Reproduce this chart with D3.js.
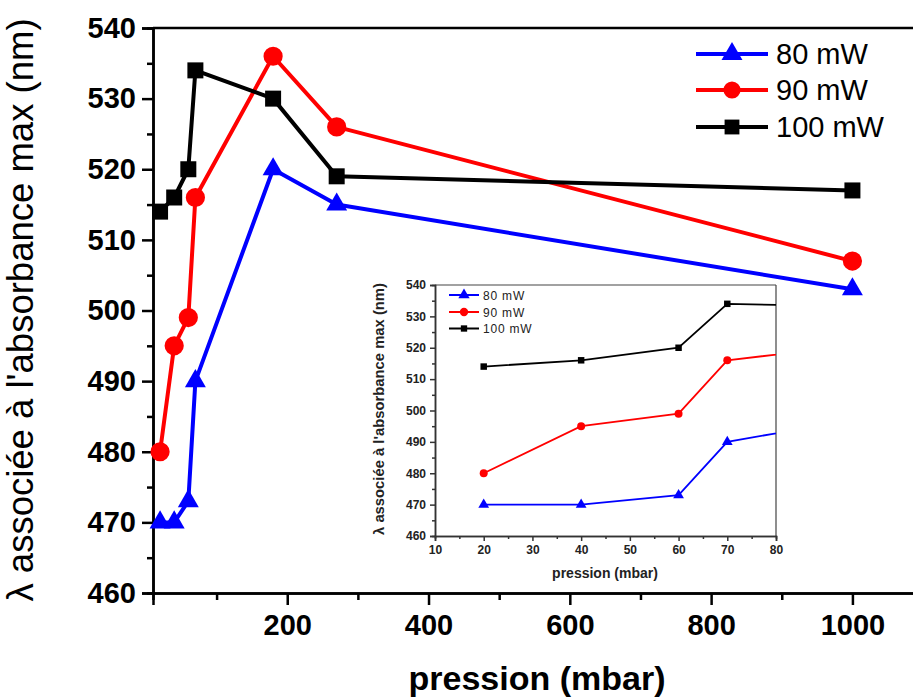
<!DOCTYPE html>
<html>
<head>
<meta charset="utf-8">
<script src="https://cdn.jsdelivr.net/npm/d3@7"></script>
<style>
  html, body { margin: 0; padding: 0; background: #fff; }
  svg { display: block; }
  text { font-family: "Liberation Sans", Arial, sans-serif; }
</style>
</head>
<body>
<svg id="chart" width="913" height="698"></svg>
<script>
// ---------------- data ----------------
const pressions = [20, 40, 60, 70, 180, 270, 1000];
const seriesNames = ["80 mW", "90 mW", "100 mW"];
const values80 = [470, 470, 473, 490, 520, 515, 503];
const values90 = [480, 495, 499, 516, 536, 526, 507];
const values100 = [514, 516, 520, 534, 530, 519, 517];
const seriesColors = ["#0000ff", "#ff0000", "#000000"];
const seriesSymbols = [d3.symbolTriangle, d3.symbolCircle, d3.symbolSquare];

const mainXTicks = [200, 400, 600, 800, 1000];
const mainXMinor = [100, 300, 500, 700, 900];
const mainYTicks = [460, 470, 480, 490, 500, 510, 520, 530, 540];
const mainYMinor = [465, 475, 485, 495, 505, 515, 525, 535];
const insetXTicks = [10, 20, 30, 40, 50, 60, 70, 80];
const insetXMinor = [15, 25, 35, 45, 55, 65, 75];
const insetYTicks = [460, 470, 480, 490, 500, 510, 520, 530, 540];
const insetYMinor = [465, 475, 485, 495, 505, 515, 525, 535];

const yTitle = "λ associée à l'absorbance max (nm)";
const xTitle = "pression (mbar)";

const allSeries = [values80, values90, values100].map((vals, i) => ({
  name: seriesNames[i], color: seriesColors[i], symbol: seriesSymbols[i],
  points: pressions.map((p, j) => ({ x: p, y: vals[j] }))
}));

const svg = d3.select("#chart");
const fmt = d3.format("d");

// ---------------- main chart ----------------
const x = d3.scaleLinear().domain([10, 1090]).range([153, 916]);
const y = d3.scaleLinear().domain([460, 540]).range([593, 28]);

// top frame line
svg.append("line").attr("x1", 153).attr("x2", 913).attr("y1", y(540)).attr("y2", y(540))
  .attr("stroke", "#000").attr("stroke-width", 2.5);

function styleAxis(g, width, color) {
  g.select(".domain").attr("stroke", color).attr("stroke-width", width);
  g.selectAll(".tick line").attr("stroke", color).attr("stroke-width", width);
}

// minor ticks
const gxm = svg.append("g").attr("transform", `translate(0,${y(460)})`)
  .call(d3.axisBottom(x).tickValues(mainXMinor).tickSize(7).tickFormat(""));
styleAxis(gxm, 2.5, "#000");
const gym = svg.append("g").attr("transform", `translate(${x(10)},0)`)
  .call(d3.axisLeft(y).tickValues(mainYMinor).tickSize(6).tickFormat(""));
styleAxis(gym, 2.5, "#000");

// major axes
const gx = svg.append("g").attr("transform", `translate(0,${y(460)})`)
  .call(d3.axisBottom(x).tickValues(mainXTicks).tickFormat(fmt).tickSize(12).tickPadding(9));
styleAxis(gx, 2.5, "#000");
gx.selectAll(".tick text").attr("font-size", 29).attr("font-weight", "bold")
  .attr("fill", "#000").attr("font-family", "'Liberation Sans', Arial, sans-serif");

const gy = svg.append("g").attr("transform", `translate(${x(10)},0)`)
  .call(d3.axisLeft(y).tickValues(mainYTicks).tickFormat(fmt).tickSize(11).tickPadding(6));
styleAxis(gy, 2.5, "#000");
gy.selectAll(".tick text").attr("font-size", 29).attr("font-weight", "bold")
  .attr("fill", "#000").attr("font-family", "'Liberation Sans', Arial, sans-serif");

// axis titles
svg.append("text").attr("x", 537).attr("y", 690).attr("text-anchor", "middle")
  .attr("font-size", 34).attr("font-weight", "bold").text(xTitle);
svg.append("text").attr("transform", `translate(33,${310}) rotate(-90)`)
  .attr("text-anchor", "middle").attr("font-size", 36.5).text(yTitle);

// series
const line = d3.line().x(d => x(d.x)).y(d => y(d.y));
const mainSizes = [190, 290, 256];
allSeries.forEach((s, i) => {
  svg.append("path").datum(s.points).attr("d", line)
    .attr("fill", "none").attr("stroke", s.color).attr("stroke-width", 4)
    .attr("stroke-linejoin", "round");
  svg.append("g").selectAll("path").data(s.points).join("path")
    .attr("transform", d => `translate(${x(d.x)},${y(d.y)})`)
    .attr("d", d3.symbol().type(s.symbol).size(mainSizes[i]))
    .attr("fill", s.color);
});

// main legend
const legRows = [54, 90, 127];
allSeries.forEach((s, i) => {
  const g = svg.append("g").attr("transform", `translate(0,${legRows[i]})`);
  g.append("line").attr("x1", 696).attr("x2", 768).attr("y1", 0).attr("y2", 0)
    .attr("stroke", s.color).attr("stroke-width", 4);
  g.append("path").attr("transform", "translate(732,0)")
    .attr("d", d3.symbol().type(s.symbol).size([190, 230, 220][i])).attr("fill", s.color);
  g.append("text").attr("x", 776).attr("y", 10).attr("font-size", 29).text(s.name);
});

// ---------------- inset ----------------
const ix = d3.scaleLinear().domain([10, 80]).range([435, 776]);
const iy = d3.scaleLinear().domain([460, 540]).range([536, 285]);

svg.append("rect").attr("x", 362).attr("y", 279).attr("width", 416).attr("height", 308).attr("fill", "#fff");

// frame (top & right)
svg.append("line").attr("x1", ix(10)).attr("x2", ix(80)).attr("y1", iy(540)).attr("y2", iy(540))
  .attr("stroke", "#444").attr("stroke-width", 1.2);
svg.append("line").attr("x1", ix(80)).attr("x2", ix(80)).attr("y1", iy(540)).attr("y2", iy(460))
  .attr("stroke", "#444").attr("stroke-width", 1.2);

const ixm = svg.append("g").attr("transform", `translate(0,${iy(460)})`)
  .call(d3.axisBottom(ix).tickValues(insetXMinor).tickSize(3).tickFormat(""));
styleAxis(ixm, 1.5, "#333");
const iym = svg.append("g").attr("transform", `translate(${ix(10)},0)`)
  .call(d3.axisLeft(iy).tickValues(insetYMinor).tickSize(3).tickFormat(""));
styleAxis(iym, 1.5, "#333");

const igx = svg.append("g").attr("transform", `translate(0,${iy(460)})`)
  .call(d3.axisBottom(ix).tickValues(insetXTicks).tickFormat(fmt).tickSize(5).tickPadding(4));
styleAxis(igx, 1.5, "#333");
igx.selectAll(".tick text").attr("font-size", 12).attr("font-weight", "bold")
  .attr("fill", "#222").attr("font-family", "'Liberation Sans', Arial, sans-serif");
const igy = svg.append("g").attr("transform", `translate(${ix(10)},0)`)
  .call(d3.axisLeft(iy).tickValues(insetYTicks).tickFormat(fmt).tickSize(5).tickPadding(4));
styleAxis(igy, 1.5, "#333");
igy.selectAll(".tick text").attr("font-size", 12).attr("font-weight", "bold")
  .attr("fill", "#222").attr("font-family", "'Liberation Sans', Arial, sans-serif");

svg.append("text").attr("x", 605).attr("y", 578).attr("text-anchor", "middle")
  .attr("font-size", 14).attr("font-weight", "bold").attr("fill", "#222").text(xTitle);
svg.append("text").attr("transform", `translate(384,${409}) rotate(-90)`)
  .attr("text-anchor", "middle").attr("font-size", 14.8).attr("font-weight", "bold")
  .attr("fill", "#222").text(yTitle);

svg.append("clipPath").attr("id", "insetClip").append("rect")
  .attr("x", ix(10) - 6).attr("y", iy(540)).attr("width", ix(80) - ix(10) + 6).attr("height", iy(460) - iy(540));

const iline = d3.line().x(d => ix(d.x)).y(d => iy(d.y));
const insetSizes = [50, 50, 42];
const gi = svg.append("g").attr("clip-path", "url(#insetClip)");
allSeries.forEach((s, i) => {
  gi.append("path").datum(s.points).attr("d", iline)
    .attr("fill", "none").attr("stroke", s.color).attr("stroke-width", 1.8);
  gi.append("g").selectAll("path").data(s.points.filter(d => d.x <= 80)).join("path")
    .attr("transform", d => `translate(${ix(d.x)},${iy(d.y)})`)
    .attr("d", d3.symbol().type(s.symbol).size(insetSizes[i]))
    .attr("fill", s.color);
});

// inset legend
const iLegRows = [295, 312, 328.5];
allSeries.forEach((s, i) => {
  const g = svg.append("g").attr("transform", `translate(0,${iLegRows[i]})`);
  g.append("line").attr("x1", 449).attr("x2", 479).attr("y1", 0).attr("y2", 0)
    .attr("stroke", s.color).attr("stroke-width", 2);
  g.append("path").attr("transform", "translate(464,0)")
    .attr("d", d3.symbol().type(s.symbol).size([55, 55, 40][i])).attr("fill", s.color);
  g.append("text").attr("x", 483).attr("y", 4.5).attr("font-size", 12)
    .attr("letter-spacing", 0.8).attr("fill", "#222").text(s.name);
});
</script>
</body>
</html>
